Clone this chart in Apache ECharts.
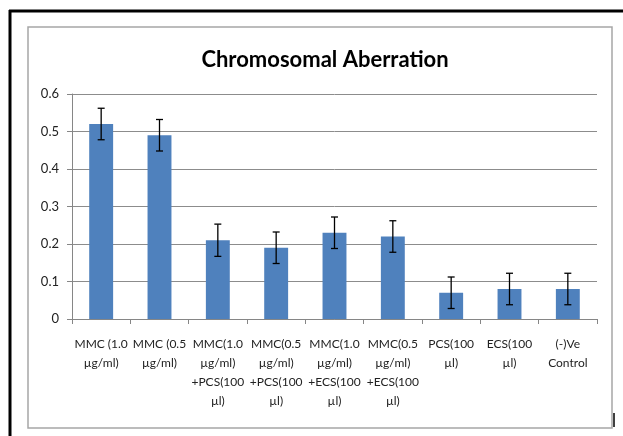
<!DOCTYPE html>
<html>
<head>
<meta charset="utf-8">
<script src="https://cdn.jsdelivr.net/npm/echarts@6/dist/echarts.min.js"></script>
<style>
  html, body { margin: 0; padding: 0; background: #fff; }
  #chart { width: 623px; height: 436px; }
</style>
</head>
<body>
<div id="chart"></div>
<script>
// data
const categories = [
    'MMC (1.0\nµg/ml)',
    'MMC (0.5\nµg/ml)',
    'MMC(1.0\nµg/ml)\n+PCS(100\nµl)',
    'MMC(0.5\nµg/ml)\n+PCS(100\nµl)',
    'MMC(1.0\nµg/ml)\n+ECS(100\nµl)',
    'MMC(0.5\nµg/ml)\n+ECS(100\nµl)',
    'PCS(100\nµl)',
    'ECS(100\nµl)',
    '(-)Ve\nControl'
];
const values = [0.52, 0.49, 0.21, 0.19, 0.23, 0.22, 0.07, 0.08, 0.08];
const errors = [0.042, 0.042, 0.043, 0.042, 0.042, 0.042, 0.042, 0.042, 0.042];
const yTicks = [0, 0.1, 0.2, 0.3, 0.4, 0.5, 0.6];

const font = 'Lato, "Open Sans", sans-serif';
const chart = echarts.init(document.getElementById('chart'), null, { renderer: 'canvas' });

const option = {
    backgroundColor: '#fff',
    animation: false,
    title: {
        text: 'Chromosomal Aberration',
        left: 320,
        textAlign: 'center',
        top: 44,
        textStyle: { fontFamily: font, fontSize: 22, fontWeight: 'bold', color: '#000' }
    },
    graphic: [
        // outer black frame (top and left)
        { type: 'line', shape: { x1: 9, y1: 11, x2: 623, y2: 11 }, style: { stroke: '#000', lineWidth: 3 } },
        { type: 'line', shape: { x1: 10, y1: 10, x2: 10, y2: 436 }, style: { stroke: '#000', lineWidth: 3 } },
        { type: 'line', shape: { x1: 614, y1: 413, x2: 614, y2: 427 }, style: { stroke: '#000', lineWidth: 1.5 } },
        // inner chart area border
        { type: 'rect', shape: { x: 28, y: 27, width: 584, height: 401 }, style: { fill: 'none', stroke: '#a6a6a6', lineWidth: 1.5 } }
    ],
    grid: { left: 72, right: 26, top: 94, bottom: 117 },
    xAxis: {
        type: 'category',
        data: categories,
        axisLine: { lineStyle: { color: '#868686', width: 1 } },
        axisTick: { show: true, length: 5, lineStyle: { color: '#868686' } },
        axisLabel: {
            interval: 0,
            margin: 16,
            fontFamily: font,
            fontSize: 12,
            lineHeight: 19,
            color: '#222'
        }
    },
    yAxis: {
        type: 'value',
        min: 0,
        max: yTicks[yTicks.length - 1],
        interval: 0.1,
        axisLine: { show: true, lineStyle: { color: '#868686', width: 1 } },
        axisTick: { show: true, length: 5, lineStyle: { color: '#868686' } },
        splitLine: { lineStyle: { color: '#8c8c8c', width: 1 } },
        axisLabel: {
            margin: 13,
            fontFamily: font,
            fontSize: 13,
            color: '#222',
            formatter: v => (v === 0 ? '0' : v.toFixed(1))
        }
    },
    series: [
        {
            type: 'bar',
            data: values,
            barWidth: '41%',
            itemStyle: { color: '#4F81BD' }
        },
        {
            type: 'custom',
            data: values.map((v, i) => [i, v - errors[i], v + errors[i]]),
            z: 10,
            renderItem: (params, api) => {
                const lo = api.coord([api.value(0), api.value(1)]);
                const hi = api.coord([api.value(0), api.value(2)]);
                const cap = 3.5;
                const style = { stroke: '#000', lineWidth: 1.3 };
                return {
                    type: 'group',
                    children: [
                        { type: 'line', shape: { x1: hi[0], y1: hi[1], x2: lo[0], y2: lo[1] }, style },
                        { type: 'line', shape: { x1: hi[0] - cap, y1: hi[1], x2: hi[0] + cap, y2: hi[1] }, style },
                        { type: 'line', shape: { x1: lo[0] - cap, y1: lo[1], x2: lo[0] + cap, y2: lo[1] }, style }
                    ]
                };
            }
        }
    ]
};

chart.setOption(option);
</script>
</body>
</html>
